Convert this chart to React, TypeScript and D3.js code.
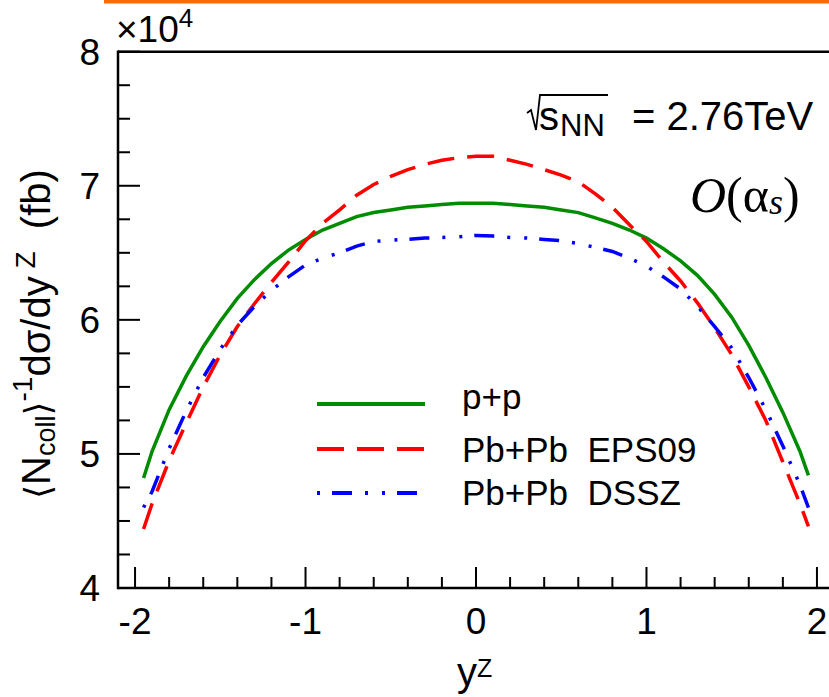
import React from "react";
import * as d3 from "d3";

const yzValues = [-1.95, -1.9, -1.8, -1.7, -1.6, -1.5, -1.4, -1.3, -1.2, -1.1, -1.0, -0.9, -0.8, -0.7, -0.6, -0.5, -0.4, -0.3, -0.2, -0.1, 0, 0.1, 0.2, 0.3, 0.4, 0.5, 0.6, 0.7, 0.8, 0.9, 1.0, 1.1, 1.2, 1.3, 1.4, 1.5, 1.6, 1.7, 1.8, 1.9, 1.95];

const ppValues = [4.82, 5.02, 5.33, 5.58, 5.80, 5.99, 6.16, 6.30, 6.42, 6.52, 6.60, 6.67, 6.72, 6.77, 6.80, 6.82, 6.84, 6.85, 6.86, 6.87, 6.87, 6.87, 6.86, 6.85, 6.84, 6.82, 6.80, 6.76, 6.72, 6.67, 6.61, 6.53, 6.44, 6.33, 6.19, 6.02, 5.81, 5.57, 5.31, 5.02, 4.84];

const eps09Values = [4.44, 4.63, 4.95, 5.23, 5.50, 5.74, 5.95, 6.12, 6.28, 6.43, 6.59, 6.72, 6.82, 6.93, 7.01, 7.07, 7.12, 7.16, 7.19, 7.21, 7.22, 7.22, 7.19, 7.16, 7.12, 7.08, 7.03, 6.94, 6.84, 6.71, 6.585, 6.43, 6.29, 6.125, 5.94, 5.74, 5.50, 5.25, 4.94, 4.63, 4.46];

const dsszValues = [4.60, 4.72, 5.04, 5.32, 5.57, 5.78, 5.96, 6.10, 6.22, 6.32, 6.41, 6.46, 6.50, 6.55, 6.585, 6.595, 6.60, 6.61, 6.615, 6.62, 6.63, 6.625, 6.615, 6.61, 6.60, 6.59, 6.57, 6.54, 6.51, 6.46, 6.40, 6.32, 6.23, 6.10, 5.95, 5.79, 5.57, 5.33, 5.06, 4.77, 4.60];

const xMajorTicks = [-2, -1, 0, 1, 2];
const yMajorTicks = [4, 5, 6, 7, 8];
const legendLabels = ["p+p", "Pb+Pb  EPS09", "Pb+Pb  DSSZ"];

const SANS = "'Liberation Sans', Arial, Helvetica, sans-serif";
const SERIF = "'Liberation Serif', 'Times New Roman', serif";

export default function App() {
  const W = 829, H = 697;
  const x = d3.scaleLinear().domain([-2.1, 2.1]).range([118, 834]);
  const y = d3.scaleLinear().domain([4, 8]).range([588, 51.7]);

  const line = d3
    .line<number>()
    .x((_, i) => x(yzValues[i]))
    .y((d) => y(d));

  const series = [
    { values: ppValues, color: "#008c00", dash: "none", offset: 0 },
    { values: eps09Values, color: "#ff0000", dash: "27 13", offset: 0 },
    { values: dsszValues, color: "#0000ff", dash: "20 13 3 14 3 12", offset: 50 },
  ];

  const xMinor = d3.range(-2.0, 2.01, 0.2).map((v) => +v.toFixed(2));
  const yMinor = d3.range(4, 8.001, 0.25);

  const x0 = x(-2.1);
  const yBot = y(4);
  const yTop = y(8);

  const legendY = [404, 449, 493];
  const legendBase = [409, 462, 505];

  return (
    <svg
      width={W}
      height={H}
      style={{ position: "absolute", left: 0, top: 0, background: "#fff" }}
      fontFamily={SANS}
    >
      <rect x={0} y={0} width={W} height={H} fill="#fff" />
      {/* orange strip at top */}
      <rect x={104} y={0} width={W - 104} height={3.5} fill="#ff6a00" />

      {/* curves */}
      <g fill="none" strokeWidth={3.5}>
        {series.map((s, i) => (
          <path
            key={i}
            d={line(s.values) || ""}
            stroke={s.color}
            strokeDasharray={s.dash}
            strokeDashoffset={s.offset}
          />
        ))}
      </g>

      {/* frame */}
      <g stroke="#000" strokeWidth={2.5} fill="none">
        <line x1={x0} y1={yTop} x2={W + 10} y2={yTop} />
        <line x1={x0} y1={yTop - 1.2} x2={x0} y2={yBot + 1.2} />
        <line x1={x0} y1={yBot} x2={W + 10} y2={yBot} />
      </g>

      {/* ticks */}
      <g stroke="#000" strokeWidth={2}>
        {xMinor.map((v, i) => {
          const major = xMajorTicks.some((m) => Math.abs(m - v) < 1e-6);
          return (
            <line key={i} x1={x(v)} x2={x(v)} y1={yBot} y2={yBot - (major ? 21 : 11)} />
          );
        })}
        {yMinor.map((v, i) => {
          const major = yMajorTicks.some((m) => Math.abs(m - v) < 1e-6);
          return (
            <line key={i} x1={x0} x2={x0 + (major ? 22 : 12)} y1={y(v)} y2={y(v)} />
          );
        })}
      </g>

      {/* tick labels */}
      <g fontSize={37} fill="#000">
        {xMajorTicks.map((v) => (
          <text key={v} x={x(v)} y={634} textAnchor="middle">
            {v < 0 ? "-" + Math.abs(v) : String(v)}
          </text>
        ))}
        {yMajorTicks.map((v) => (
          <text key={v} x={100} y={y(v) + 13.3} textAnchor="end">
            {String(v)}
          </text>
        ))}
      </g>

      {/* x10^4 */}
      <text x={116} y={42} fontSize={37}>
        ×10
        <tspan fontSize={26} dy={-15}>4</tspan>
      </text>

      {/* x axis title */}
      <text x={457} y={686} fontSize={40}>
        y
        <tspan fontSize={25} dy={-9}>Z</tspan>
      </text>

      {/* y axis title */}
      <text transform="translate(50,499) rotate(-90)" fontSize={40}>
        <tspan fontFamily="'DejaVu Sans', sans-serif" fontSize={36}>⟨</tspan>
        <tspan>N</tspan>
        <tspan fontSize={27} dy={5}>coll</tspan>
        <tspan fontFamily="'DejaVu Sans', sans-serif" fontSize={36} dy={-5}>⟩</tspan>
        <tspan fontSize={28} dy={-18}>-1</tspan>
        <tspan dy={18}>dσ/dy</tspan>
        <tspan fontSize={28} dy={-15}>{"\u00a0Z"}</tspan>
        <tspan dy={15}>{"\u00a0\u00a0(fb)"}</tspan>
      </text>

      {/* sqrt(s_NN) = 2.76TeV */}
      <path d="M527,113 L531,110 L536,130 L540,95 L608,95" fill="none" stroke="#000" strokeWidth={1.8} />
      <text x={539} y={130} fontSize={40}>s</text>
      <text x={560} y={136} fontSize={31}>NN</text>
      <text x={632} y={130} fontSize={40}>= 2.76TeV</text>

      {/* O(alpha_s) */}
      <text x={690} y={212} fontSize={50} fontFamily={SERIF}>
        <tspan fontStyle="italic">O</tspan>
        <tspan>(α</tspan>
        <tspan fontStyle="italic" fontSize={36} dy={2}>s</tspan>
        <tspan dy={-2}>)</tspan>
      </text>

      {/* legend */}
      {series.map((s, i) => (
        <g key={i}>
          <line
            x1={317}
            x2={425}
            y1={legendY[i]}
            y2={legendY[i]}
            stroke={s.color}
            strokeWidth={4}
            strokeDasharray={s.dash}
            strokeDashoffset={s.offset}
          />
          <text x={462} y={legendBase[i]} fontSize={35} style={{ whiteSpace: "pre" }}>
            {legendLabels[i]}
          </text>
        </g>
      ))}
    </svg>
  );
}
